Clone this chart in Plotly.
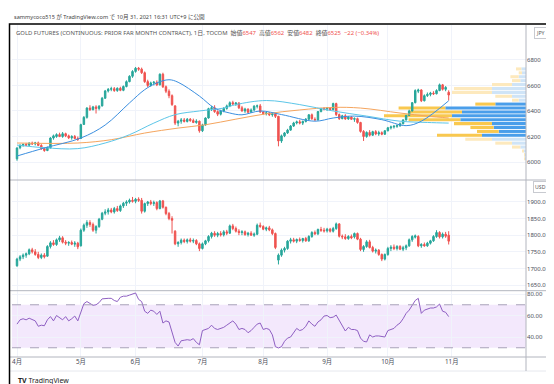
import plotly.graph_objects as go

W, H = 554, 384
def px(x): return x / W
def py(y): return 1 - y / H

MONTH_TICK_IDX = [0, 21, 39, 61, 81, 102, 122, 143]
MONTH_TICK_TEXT = ["4月", "5月", "6月", "7月", "8月", "9月", "10月", "11月"]

JPY_OPEN = [6025,6112,6130,6138,6132,6148,6142,6150,6130,6105,
            6090,6112,6188,6200,6215,6200,6222,6205,6190,6200,
            6185,6185,6295,6350,6423,6410,6432,6420,6440,6500,
            6557,6570,6575,6560,6578,6562,6592,6630,6672,6710,
            6735,6728,6700,6630,6600,6620,6625,6605,6688,6590,
            6555,6520,6440,6305,6320,6330,6318,6335,6325,6310,
            6320,6245,6290,6345,6418,6425,6395,6375,6400,6420,
            6440,6465,6455,6462,6425,6400,6415,6390,6408,6438,
            6440,6392,6380,6385,6370,6378,6358,6165,6205,6228,
            6250,6282,6306,6315,6305,6318,6335,6370,6335,6330,
            6395,6418,6415,6422,6410,6458,6372,6340,6362,6338,
            6352,6335,6340,6310,6240,6200,6232,6210,6238,6220,
            6230,6218,6245,6268,6275,6280,6285,6300,6330,6365,
            6400,6465,6555,6565,6480,6520,6530,6540,6535,6560,
            6605,6570,6547]
JPY_HIGH = [6115,6140,6145,6150,6155,6160,6158,6160,6140,6115,
            6120,6195,6215,6225,6230,6235,6230,6215,6210,6212,
            6200,6300,6360,6430,6445,6440,6445,6445,6510,6565,
            6580,6590,6588,6585,6590,6600,6640,6680,6720,6745,
            6745,6740,6710,6645,6630,6635,6640,6695,6700,6600,
            6570,6530,6445,6330,6345,6345,6345,6345,6340,6335,
            6325,6300,6350,6425,6440,6445,6405,6410,6430,6450,
            6475,6480,6470,6470,6440,6425,6420,6420,6445,6450,
            6455,6400,6395,6390,6385,6382,6362,6215,6235,6260,
            6290,6315,6325,6330,6325,6345,6375,6380,6350,6400,
            6425,6430,6430,6430,6465,6465,6380,6370,6375,6360,
            6360,6350,6348,6315,6250,6240,6250,6245,6250,6245,
            6240,6250,6275,6285,6290,6295,6310,6335,6370,6410,
            6470,6570,6575,6570,6530,6545,6550,6555,6570,6615,
            6612,6595,6562]
JPY_LOW = [6010,6100,6120,6125,6125,6135,6130,6125,6095,6080,
           6085,6105,6175,6190,6195,6190,6195,6180,6175,6180,
           6165,6180,6290,6340,6400,6405,6380,6405,6435,6495,
           6545,6555,6550,6550,6555,6555,6585,6625,6660,6700,
           6715,6690,6620,6585,6590,6600,6595,6600,6580,6540,
           6500,6440,6290,6280,6300,6310,6310,6315,6305,6300,
           6230,6235,6285,6340,6400,6385,6360,6365,6390,6410,
           6430,6445,6440,6415,6395,6385,6380,6385,6400,6420,
           6385,6370,6365,6360,6355,6345,6123,6150,6195,6220,
           6245,6275,6295,6295,6290,6310,6330,6330,6325,6325,
           6390,6405,6400,6405,6405,6360,6330,6335,6330,6330,
           6330,6315,6300,6230,6165,6190,6200,6205,6210,6205,
           6210,6212,6240,6255,6262,6268,6275,6295,6325,6360,
           6395,6460,6540,6470,6475,6510,6515,6525,6530,6555,
           6560,6555,6482]
JPY_CLOSE = [6110,6130,6138,6132,6148,6142,6150,6130,6105,6090,
             6115,6188,6205,6215,6200,6222,6205,6190,6200,6185,
             6178,6293,6350,6423,6410,6432,6420,6438,6500,6557,
             6570,6575,6560,6578,6562,6592,6630,6672,6710,6735,
             6728,6700,6630,6600,6620,6625,6605,6688,6590,6555,
             6520,6450,6305,6320,6330,6318,6335,6325,6310,6320,
             6245,6290,6345,6418,6425,6395,6375,6400,6420,6440,
             6465,6455,6462,6425,6400,6415,6390,6408,6438,6440,
             6392,6380,6385,6370,6378,6358,6165,6205,6228,6250,
             6282,6306,6315,6305,6318,6335,6370,6340,6330,6395,
             6418,6415,6422,6410,6458,6372,6340,6362,6338,6352,
             6335,6340,6310,6240,6200,6232,6210,6238,6220,6230,
             6218,6245,6268,6275,6280,6285,6300,6330,6365,6400,
             6465,6560,6565,6480,6520,6530,6540,6535,6560,6605,
             6570,6585,6525]

USD_OPEN = [1708,1728,1735,1740,1744,1756,1750,1742,1733,1740,
            1737,1766,1777,1772,1786,1792,1779,1776,1778,1773,
            1776,1768,1815,1830,1838,1832,1815,1826,1848,1866,
            1870,1876,1870,1880,1874,1888,1896,1900,1905,1902,
            1908,1905,1872,1895,1900,1895,1898,1880,1903,1884,
            1865,1850,1812,1774,1778,1785,1781,1786,1782,1784,
            1774,1760,1774,1783,1796,1806,1800,1805,1801,1810,
            1806,1828,1820,1812,1808,1810,1802,1806,1800,1803,
            1830,1826,1818,1822,1816,1805,1725,1740,1755,1760,
            1782,1786,1782,1787,1784,1790,1783,1796,1808,1804,
            1817,1815,1813,1818,1812,1820,1834,1797,1795,1790,
            1796,1795,1805,1788,1757,1766,1780,1763,1752,1755,
            1742,1728,1742,1760,1764,1760,1766,1758,1762,1768,
            1786,1794,1796,1768,1772,1768,1776,1783,1796,1808,
            1795,1803,1800]
USD_HIGH = [1732,1740,1745,1748,1760,1762,1758,1750,1745,1746,
            1770,1782,1785,1790,1798,1797,1785,1782,1784,1782,
            1780,1820,1835,1845,1845,1838,1830,1852,1870,1878,
            1882,1882,1885,1888,1892,1900,1905,1910,1915,1912,
            1914,1912,1898,1903,1906,1904,1902,1906,1906,1886,
            1870,1857,1815,1782,1790,1790,1790,1792,1790,1788,
            1778,1778,1786,1800,1810,1812,1810,1812,1815,1816,
            1832,1834,1826,1818,1815,1814,1810,1812,1808,1835,
            1838,1830,1826,1828,1820,1808,1745,1760,1765,1785,
            1792,1792,1790,1793,1792,1795,1800,1812,1814,1820,
            1825,1822,1822,1822,1825,1838,1836,1802,1803,1800,
            1802,1808,1808,1792,1770,1785,1786,1768,1760,1758,
            1745,1745,1765,1770,1772,1770,1770,1768,1772,1790,
            1800,1802,1800,1776,1778,1780,1786,1800,1815,1812,
            1808,1810,1812]
USD_LOW = [1705,1722,1728,1732,1740,1745,1738,1728,1728,1730,
           1735,1760,1768,1768,1780,1775,1770,1768,1770,1765,
           1758,1766,1810,1822,1825,1810,1805,1822,1845,1860,
           1862,1866,1865,1870,1870,1882,1888,1895,1898,1896,
           1900,1865,1868,1888,1890,1888,1875,1878,1880,1860,
           1845,1805,1770,1765,1772,1776,1775,1778,1776,1770,
           1752,1757,1770,1778,1790,1795,1794,1796,1796,1800,
           1804,1815,1808,1800,1800,1798,1796,1798,1795,1800,
           1822,1815,1812,1812,1800,1758,1712,1735,1748,1756,
           1775,1778,1776,1780,1778,1780,1780,1792,1800,1800,
           1810,1808,1808,1808,1808,1816,1793,1788,1786,1786,
           1788,1790,1785,1752,1750,1762,1760,1748,1745,1738,
           1722,1724,1738,1752,1755,1754,1755,1752,1755,1765,
           1780,1790,1764,1762,1765,1765,1772,1780,1792,1790,
           1790,1792,1772]
USD_CLOSE = [1728,1735,1740,1744,1756,1750,1742,1733,1740,1735,
             1766,1777,1772,1786,1792,1779,1776,1778,1773,1776,
             1765,1815,1830,1838,1832,1815,1826,1848,1866,1870,
             1876,1870,1880,1874,1888,1896,1900,1905,1902,1908,
             1905,1872,1895,1900,1895,1898,1880,1903,1884,1865,
             1850,1845,1774,1778,1785,1781,1786,1782,1784,1774,
             1760,1774,1783,1796,1806,1800,1805,1801,1810,1806,
             1828,1820,1812,1808,1810,1802,1806,1800,1803,1830,
             1826,1818,1822,1816,1805,1763,1740,1755,1760,1782,
             1786,1782,1787,1784,1790,1783,1796,1808,1804,1817,
             1815,1813,1818,1812,1820,1834,1797,1795,1790,1796,
             1792,1805,1788,1757,1766,1780,1763,1752,1755,1742,
             1728,1742,1760,1764,1760,1766,1758,1762,1768,1786,
             1796,1798,1768,1772,1768,1776,1783,1796,1808,1795,
             1803,1797,1782]

RSI = [52,56,57,56,57.5,56,55,50,51,50.5,
       56,59,55,60,58,56,59,55,57,59.5,
       55,64,71,73,71,69.5,70,72,75.5,76,
       76,76,74,73,77,78,78,79,80,81,
       75,73,64,62,65,64,61,64,53,55,
       54,44,35,31.6,36.5,37,37.5,37,38.5,35,
       32.8,46,47,48,51,48,47,48,49,51,
       53,55,52,47,48,47,44,46,49,52,
       53,47,48,47,42,31,29.8,31,36,39,
       40,44,48,46,47,50,55,52,50,54,
       56,59.5,60,58,58.5,60.4,55,50,45.6,49,
       47,47,46,39,36,35.4,42,40,41,41,
       40.5,40,46,47,48,51,53,57,62,65,
       69,74,76,62,65,66,67,67,68,70.7,
       64,63,59]

MA_SHORT_IDX = [0, 9, 21, 29, 37, 42, 46, 50, 53, 60, 65, 70, 74, 80, 87, 98, 104, 111, 120, 128, 133, 142]
MA_SHORT_VAL = [6047, 6110, 6188, 6290, 6463, 6567, 6620, 6645, 6625, 6517, 6423, 6384, 6370, 6400, 6372, 6320, 6345, 6360, 6332, 6285, 6320, 6480]
MA_MID_IDX = [0, 9, 20, 29, 37, 45, 52, 60, 68, 72, 82, 93, 104, 115, 126, 135, 142]
MA_MID_VAL = [6133, 6112, 6105, 6149, 6214, 6305, 6371, 6400, 6423, 6450, 6482, 6450, 6400, 6360, 6320, 6310, 6305]
MA_LONG_IDX = [0, 20, 31, 42, 53, 62, 72, 82, 93, 104, 113, 126, 135, 142]
MA_LONG_VAL = [6149, 6149, 6175, 6227, 6266, 6292, 6336, 6378, 6408, 6428, 6423, 6384, 6360, 6345]

# visible-range volume profile, 24 rows bottom->top (relative volumes)
PROFILE_UP = [1, 1.5, 2.3, 5.7, 14, 34, 44, 27.3, 32.3, 34, 65.7, 74, 64, 80.7, 30.7, 7.3, 14, 34, 34, 14, 5.7, 7.3, 4, 4.7]
PROFILE_DOWN = [0.5, 0.5, 1, 8.3, 16.7, 26.7, 45, 21.7, 23.3, 38, 51.7, 68, 53, 46.7, 20, 6.7, 16.7, 40, 38, 20, 8.3, 8.3, 3.3, 5.3]
VALUE_AREA_ROWS = (6, 14)

GREEN = "#26a69a"
RED = "#ef5350"
GRID = "#f0f3fa"
SEP = "#b2b5be"
TXT = "#4a4d57"
FONT = "Noto Sans, Noto Sans CJK JP, sans-serif"

BAR_PX = 3.04
X0 = (4 - 9) / BAR_PX
X1 = (518 - 9) / BAR_PX

fig = go.Figure()

# visible-range volume profile (bars are layered below candles/lines)
n_rows = len(PROFILE_UP)
lo, hi = min(JPY_LOW), max(JPY_HIGH)
step = (hi - lo) / n_rows
centers = [lo + step * (k + 0.5) for k in range(n_rows)]
scale = 1 / BAR_PX
in_va = [VALUE_AREA_ROWS[0] <= k <= VALUE_AREA_ROWS[1] for k in range(n_rows)]
up_len = [v * scale for v in PROFILE_UP]
dn_len = [v * scale for v in PROFILE_DOWN]
fig.add_trace(go.Bar(orientation="h", y=centers, x=[-u for u in up_len], base=[X1] * n_rows,
                     width=step * 0.78, marker=dict(color=["#4a9eea" if v else "#cfe4f7" for v in in_va], line=dict(width=0)),
                     xaxis="x", yaxis="y", showlegend=False, hoverinfo="skip"))
fig.add_trace(go.Bar(orientation="h", y=centers, x=[-d for d in dn_len], base=[X1 - u for u in up_len],
                     width=step * 0.78, marker=dict(color=["#f9c84f" if v else "#fde9bd" for v in in_va], line=dict(width=0)),
                     xaxis="x", yaxis="y", showlegend=False, hoverinfo="skip"))

idx = list(range(len(JPY_CLOSE)))
fig.add_trace(go.Candlestick(x=idx, open=JPY_OPEN, high=JPY_HIGH, low=JPY_LOW, close=JPY_CLOSE,
                             increasing=dict(line=dict(color=GREEN, width=1), fillcolor=GREEN),
                             decreasing=dict(line=dict(color=RED, width=1), fillcolor=RED),
                             whiskerwidth=0, xaxis="x", yaxis="y", showlegend=False, hoverinfo="skip"))
for xs, ys, col in [(MA_LONG_IDX, MA_LONG_VAL, "#f5a55e"), (MA_MID_IDX, MA_MID_VAL, "#5cc6e8"),
                    (MA_SHORT_IDX, MA_SHORT_VAL, "#3b8fe0")]:
    fig.add_trace(go.Scatter(x=xs, y=ys, mode="lines", line=dict(color=col, width=1, shape="spline", smoothing=1.0),
                             xaxis="x", yaxis="y", showlegend=False, hoverinfo="skip"))

idx2 = list(range(len(USD_CLOSE)))
fig.add_trace(go.Candlestick(x=idx2, open=USD_OPEN, high=USD_HIGH, low=USD_LOW, close=USD_CLOSE,
                             increasing=dict(line=dict(color=GREEN, width=1), fillcolor=GREEN),
                             decreasing=dict(line=dict(color=RED, width=1), fillcolor=RED),
                             whiskerwidth=0, xaxis="x2", yaxis="y2", showlegend=False, hoverinfo="skip"))

fig.add_trace(go.Scatter(x=list(range(len(RSI))), y=RSI, mode="lines", line=dict(color="#8e5fc2", width=1),
                         xaxis="x3", yaxis="y3", showlegend=False, hoverinfo="skip"))

xcommon = dict(domain=[px(4), px(518)], range=[X0, X1], tickvals=MONTH_TICK_IDX, ticktext=MONTH_TICK_TEXT,
               showgrid=True, gridcolor=GRID, gridwidth=1, zeroline=False, showline=False,
               rangeslider=dict(visible=False), fixedrange=True)
ycommon = dict(side="right", showgrid=True, gridcolor=GRID, gridwidth=1, zeroline=False, showline=False,
               ticks="", ticklabelstandoff=0,
               tickfont=dict(family=FONT, size=6, color=TXT), fixedrange=True)

fig.update_layout(
    width=W, height=H, margin=dict(l=0, r=0, t=0, b=0),
    paper_bgcolor="white", plot_bgcolor="white", barmode="overlay",
    xaxis=dict(xcommon, anchor="y", showticklabels=False),
    xaxis2=dict(xcommon, anchor="y2", matches="x", showticklabels=False),
    xaxis3=dict(xcommon, anchor="y3", matches="x", showticklabels=True, ticks="",
                tickfont=dict(family=FONT, size=6.3, color=TXT)),
    yaxis=dict(ycommon, anchor="x", domain=[py(172), py(17)], range=[5859, 7074],
               tickvals=[6000, 6200, 6400, 6600, 6800]),
    yaxis2=dict(ycommon, anchor="x2", domain=[py(282.7), py(172)], range=[1633, 1966],
                tickvals=[1650, 1700, 1750, 1800, 1850, 1900],
                ticktext=["1650.0", "1700.0", "1750.0", "1800.0", "1850.0", "1900.0"]),
    yaxis3=dict(ycommon, anchor="x3", domain=[py(349), py(282.7)], range=[21.4, 83.1],
                tickvals=[40, 60, 80], ticktext=["40.00", "60.00", "80.00"]),
)

shapes = []
shapes.append(dict(type="rect", xref="x3 domain", yref="y3", x0=0, x1=1, y0=30, y1=70,
                   fillcolor="#f3e8fc", line=dict(width=0), layer="below"))
for lvl in (70, 30):
    shapes.append(dict(type="line", xref="x3 domain", yref="y3", x0=0, x1=1, y0=lvl, y1=lvl,
                       line=dict(color="#a8a2b8", width=1, dash="dash")))
for yy in (172, 282.7, 349):
    shapes.append(dict(type="line", xref="paper", yref="paper", x0=px(2), x1=px(552), y0=py(yy), y1=py(yy),
                       line=dict(color=SEP, width=1)))
shapes.append(dict(type="line", xref="paper", yref="paper", x0=px(2), x1=px(552), y0=py(363), y1=py(363),
                   line=dict(color="#e6e8ee", width=1)))
shapes.append(dict(type="line", xref="paper", yref="paper", x0=px(518), x1=px(518), y0=py(17), y1=py(363),
                   line=dict(color=SEP, width=1)))
shapes.append(dict(type="rect", xref="paper", yref="paper", x0=px(1.5), x1=px(552.8), y0=py(381.5), y1=py(16),
                   line=dict(color="black", width=1.5), fillcolor="rgba(0,0,0,0)"))
fig.update_layout(shapes=shapes)

ann = []
ann.append(dict(x=px(4), y=py(9), xref="paper", yref="paper", xanchor="left", yanchor="middle", showarrow=False,
                text="sammycoco515 が TradingView.com で 10月 31, 2021 16:31 UTC+9 に公開",
                font=dict(family=FONT, size=5.6, color="#444")))
title = ("GOLD FUTURES (CONTINUOUS: PRIOR FAR MONTH CONTRACT), 1日, TOCOM  "
         "始値<span style='color:#ef5350'>6547</span>  高値<span style='color:#ef5350'>6562</span>  "
         "安値<span style='color:#ef5350'>6482</span>  終値<span style='color:#ef5350'>6525</span>  "
         "<span style='color:#ef5350'>−22 (−0.34%)</span>")
ann.append(dict(x=px(6), y=py(25), xref="paper", yref="paper", xanchor="left", yanchor="middle", showarrow=False,
                text=title, font=dict(family=FONT, size=5.9, color="#555")))
ann.append(dict(x=px(532), y=py(25), xref="paper", yref="paper", xanchor="center", yanchor="middle", showarrow=False,
                text="JPY", font=dict(family=FONT, size=5.2, color="#555"), bordercolor="#c8cad0", borderwidth=1,
                borderpad=1, bgcolor="white"))
ann.append(dict(x=px(532), y=py(178.5), xref="paper", yref="paper", xanchor="center", yanchor="middle", showarrow=False,
                text="USD", font=dict(family=FONT, size=5.2, color="#555"), bordercolor="#c8cad0", borderwidth=1,
                borderpad=1, bgcolor="white"))
ann.append(dict(x=px(8), y=py(372), xref="paper", yref="paper", xanchor="left", yanchor="middle", showarrow=False,
                text="<b>TV</b> TradingView", font=dict(family=FONT, size=7, color="#222")))
fig.update_layout(annotations=ann)

fig.write_html("out.html")
